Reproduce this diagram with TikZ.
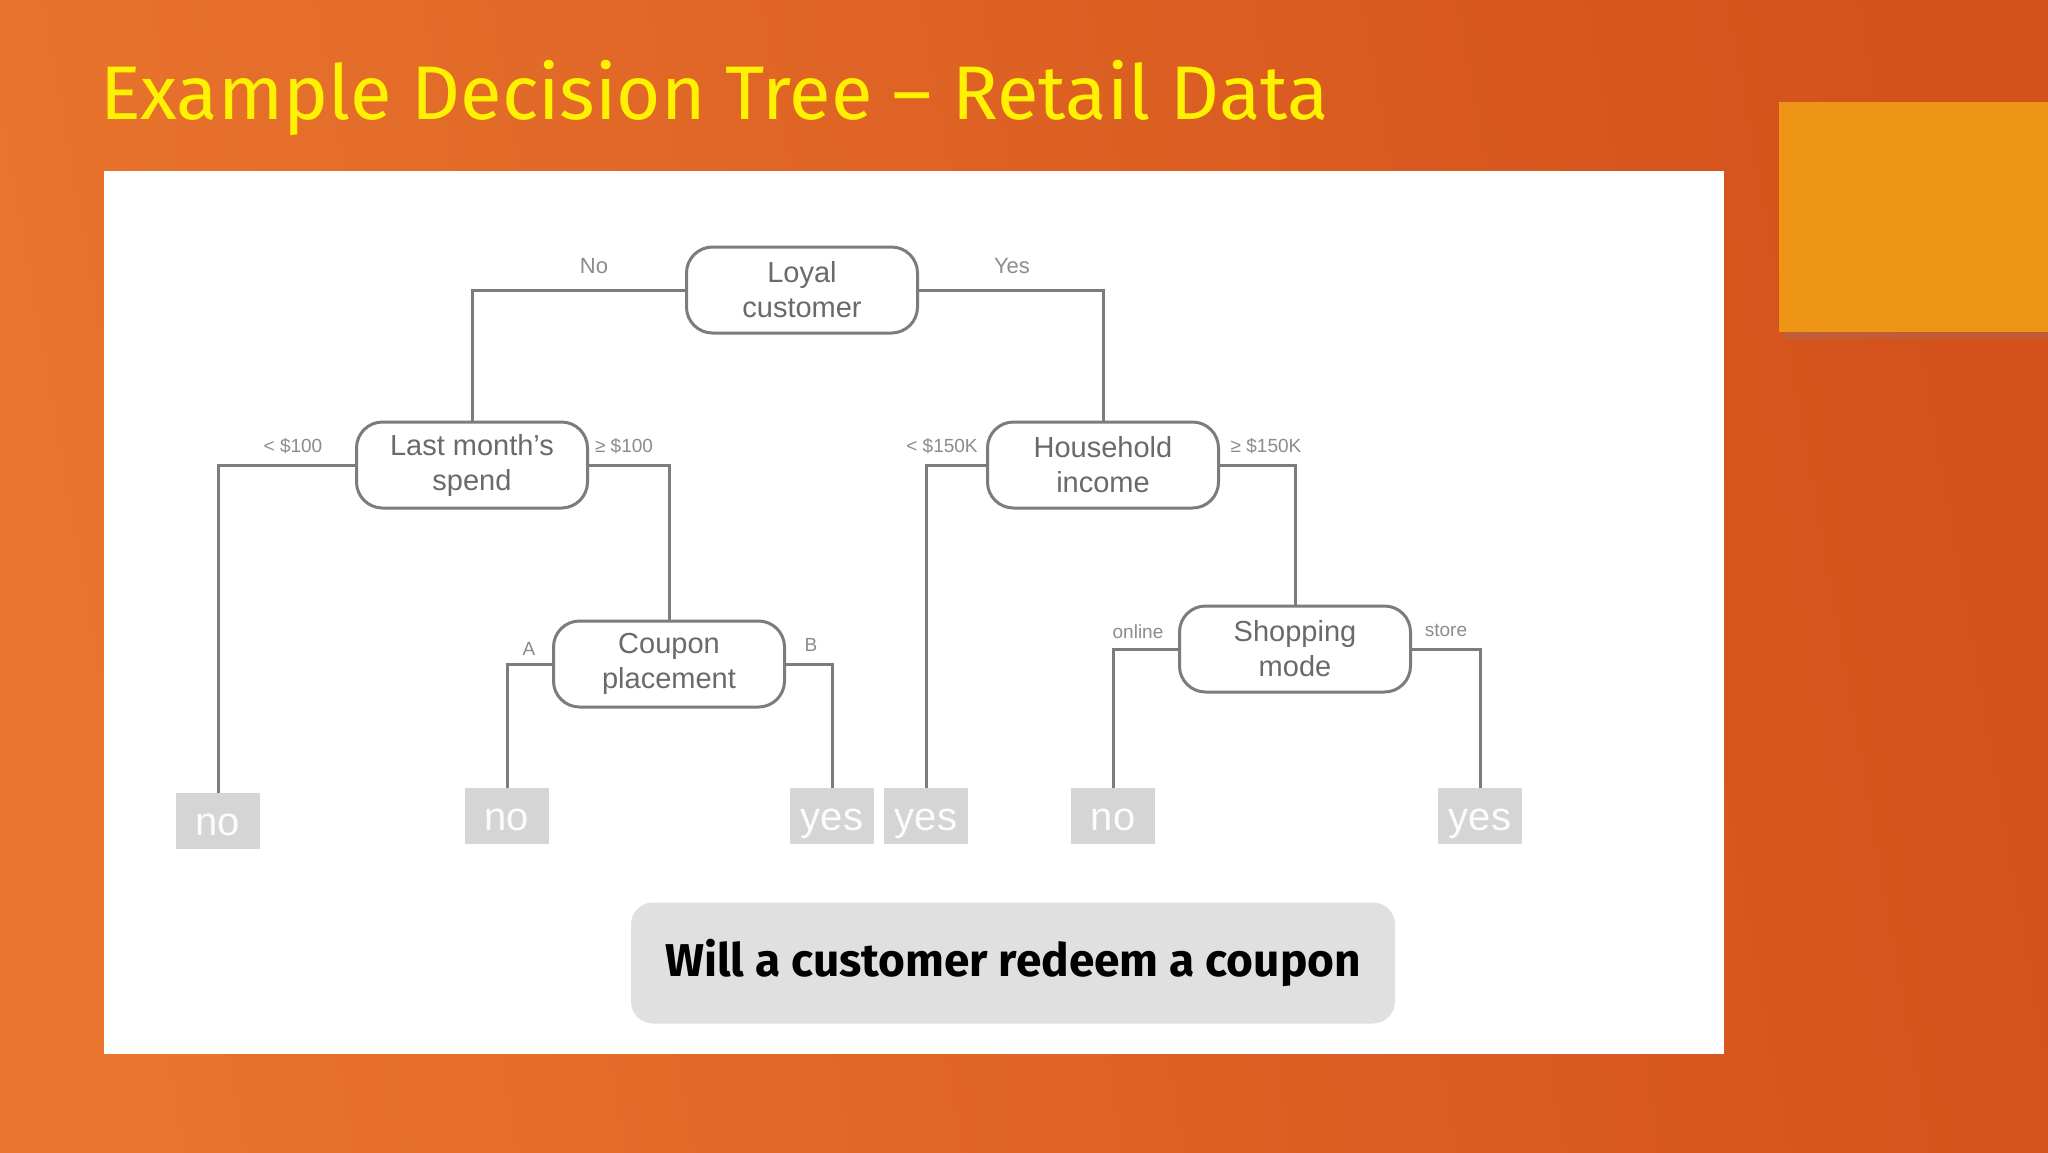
\documentclass[tikz,border=0pt]{standalone}
\usepackage{fontspec}
\setmainfont{Liberation Sans}
\newfontfamily\titlefont{Fira Sans}
\newfontfamily\capfont{Fira Sans}
\usetikzlibrary{shadows}
\definecolor{bgleft}{HTML}{E8742D}
\definecolor{bgright}{HTML}{D4511B}
\definecolor{square}{HTML}{EE9417}
\definecolor{edgegray}{HTML}{7C7C7C}
\definecolor{txtgray}{HTML}{6A6A6A}
\definecolor{lblgray}{HTML}{8C8C8C}
\definecolor{leafgray}{HTML}{D5D5D5}
\definecolor{capgray}{HTML}{E0E0E0}
\begin{document}
\begin{tikzpicture}[x=1pt,y=-1pt,
  dnode/.style={draw=edgegray,line width=3pt,rounded corners=26pt,fill=white,minimum width=231pt,minimum height=86pt,align=center,inner sep=0pt,text=txtgray,font=\fontsize{29}{35}\selectfont},
  leaf/.style={fill=leafgray,minimum width=84pt,minimum height=56pt,inner sep=0pt,text height=29pt,text depth=0pt,text=white!92!leafgray,font=\fontsize{40}{42}\selectfont},
  elabel/.style={text=lblgray,inner sep=0pt,font=\fontsize{19}{22}\selectfont},
  link/.style={draw=edgegray,line width=3pt}]
\useasboundingbox (0,0) rectangle (2048,1152);
% slide background
\shade[left color=bgleft,right color=bgright,shading angle=100] (0,0) rectangle (2048,1152);
\fill[square,drop shadow={shadow xshift=6pt,shadow yshift=-7pt,opacity=0.25}] (1779,102) rectangle (2048,332);
\node[anchor=base west,inner sep=0pt,text=yellow,font=\titlefont\fontsize{76}{80}\selectfont] (title) at (100,119) {Example Decision Tree – Retail Data};
\fill[white] (104,171) rectangle (1724,1054);
% tree
\node[dnode] (loyal) at (802,290) {Loyal\\customer};
\node[dnode] (spend) at (472,465) {Last month's\\spend};
\node[dnode] (income) at (1103,465) {Household\\income};
\node[dnode] (coupon) at (669,664) {Coupon\\placement};
\node[dnode] (mode) at (1295,649) {Shopping\\mode};
\node[leaf] (no1) at (218,821) {no};
\node[leaf] (no2) at (507,816) {no};
\node[leaf] (yes1) at (832,816) {yes};
\node[leaf] (yes2) at (926,816) {yes};
\node[leaf] (no3) at (1113,816) {no};
\node[leaf] (yes3) at (1480,816) {yes};
\draw[link] (loyal.west) -| (spend.north);
\draw[link] (loyal.east) -| (income.north);
\draw[link] (spend.west) -| (no1.north);
\draw[link] (spend.east) -| (coupon.north);
\draw[link] (coupon.west) -| (no2.north);
\draw[link] (coupon.east) -| (yes1.north);
\draw[link] (income.west) -| (yes2.north);
\draw[link] (income.east) -| (mode.north);
\draw[link] (mode.west) -| (no3.north);
\draw[link] (mode.east) -| (yes3.north);
\node[elabel,font=\fontsize{22}{24}\selectfont] (lno) at (594,266) {No};
\node[elabel,font=\fontsize{22}{24}\selectfont] (lyes) at (1012,266) {Yes};
\node[elabel] (llow) at (293,446) {< \$100};
\node[elabel] (lhigh) at (624,446) {≥ \$100};
\node[elabel] (llowk) at (942,446) {< \$150K};
\node[elabel] (lhighk) at (1266,446) {≥ \$150K};
\node[elabel] (la) at (529,649) {A};
\node[elabel] (lb) at (811,645) {B};
\node[elabel] (lonline) at (1138,632) {online};
\node[elabel] (lstore) at (1446,630) {store};
% question
\node[fill=capgray,rounded corners=22pt,minimum width=764pt,minimum height=121pt,font=\capfont\bfseries\fontsize{46}{50}\selectfont] (question) at (1013,963) {Will a customer redeem a coupon};
\end{tikzpicture}
\end{document}
